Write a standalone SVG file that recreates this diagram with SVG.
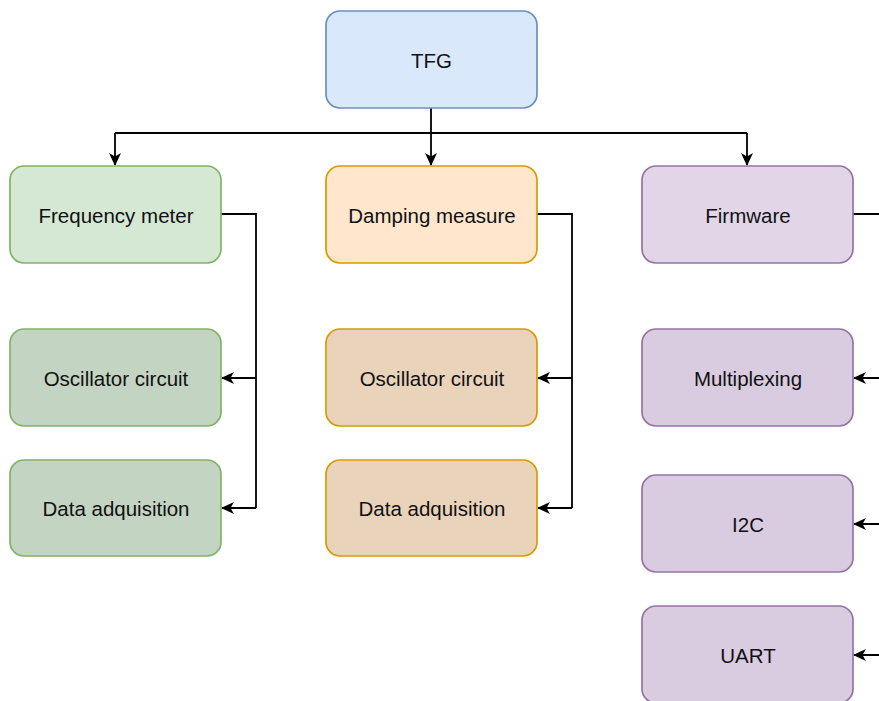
<svg xmlns="http://www.w3.org/2000/svg" width="879" height="701" viewBox="0 0 879 701">
  <style>
    .box { stroke-width: 1.7; }
    .blue { fill: #dae8fc; stroke: #6c8ebf; }
    .green { fill: #d5e8d4; stroke: #82b366; }
    .green2 { fill: #c3d4c2; stroke: #82b366; }
    .orange { fill: #ffe6cc; stroke: #d79b00; }
    .orange2 { fill: #ead3bb; stroke: #d79b00; }
    .purple { fill: #e1d5e7; stroke: #9673a6; }
    .purple2 { fill: #d9cbe0; stroke: #9673a6; }
    text { font-family: "Liberation Sans", Arial, sans-serif; font-size: 20.5px; fill: #111; text-anchor: middle; dominant-baseline: central; }
    .edge { fill: none; stroke: #000; stroke-width: 1.8; }
  </style>
  <defs>
    <marker id="arrow" viewBox="0 0 13 12" refX="12" refY="6" markerWidth="13" markerHeight="12" markerUnits="userSpaceOnUse" orient="auto">
      <path d="M0,0 L13,6 L0,12 L3.5,6 Z" fill="#000"/>
    </marker>
  </defs>

  <rect width="879" height="701" fill="#ffffff"/>

  <g id="connectors">
    <!-- TFG to first-level nodes -->
    <path class="edge" d="M431,108 V133"/>
    <path class="edge" d="M115,133 H747"/>
    <path class="edge" d="M115,133 V165" marker-end="url(#arrow)"/>
    <path class="edge" d="M431,133 V165" marker-end="url(#arrow)"/>
    <path class="edge" d="M747,133 V165" marker-end="url(#arrow)"/>
    <!-- Frequency meter children -->
    <path class="edge" d="M221,214 H256 V508"/>
    <path class="edge" d="M256,378 H222" marker-end="url(#arrow)"/>
    <path class="edge" d="M256,508 H222" marker-end="url(#arrow)"/>
    <!-- Damping measure children -->
    <path class="edge" d="M537,214 H572 V508"/>
    <path class="edge" d="M572,378 H538" marker-end="url(#arrow)"/>
    <path class="edge" d="M572,508 H538" marker-end="url(#arrow)"/>
    <!-- Firmware children -->
    <path class="edge" d="M853,214 H890"/>
    <path class="edge" d="M890,378 H854" marker-end="url(#arrow)"/>
    <path class="edge" d="M890,524 H854" marker-end="url(#arrow)"/>
    <path class="edge" d="M890,655 H854" marker-end="url(#arrow)"/>
  </g>

  <g id="tfg">
    <rect class="box blue" x="326" y="11" width="211" height="97" rx="14"/>
    <text x="431.5" y="60">TFG</text>
  </g>

  <g id="frequency-meter">
    <rect class="box green" x="10" y="166" width="211" height="97" rx="14"/>
    <text x="116" y="215">Frequency meter</text>
  </g>
  <g id="freq-oscillator">
    <rect class="box green2" x="10" y="329" width="211" height="97" rx="14"/>
    <text x="116" y="378">Oscillator circuit</text>
  </g>
  <g id="freq-data">
    <rect class="box green2" x="10" y="460" width="211" height="96" rx="14"/>
    <text x="116" y="508">Data adquisition</text>
  </g>

  <g id="damping-measure">
    <rect class="box orange" x="326" y="166" width="211" height="97" rx="14"/>
    <text x="432" y="215">Damping measure</text>
  </g>
  <g id="damp-oscillator">
    <rect class="box orange2" x="326" y="329" width="211" height="97" rx="14"/>
    <text x="432" y="378">Oscillator circuit</text>
  </g>
  <g id="damp-data">
    <rect class="box orange2" x="326" y="460" width="211" height="96" rx="14"/>
    <text x="432" y="508">Data adquisition</text>
  </g>

  <g id="firmware">
    <rect class="box purple" x="642" y="166" width="211" height="97" rx="14"/>
    <text x="748" y="215">Firmware</text>
  </g>
  <g id="multiplexing">
    <rect class="box purple2" x="642" y="329" width="211" height="97" rx="14"/>
    <text x="748" y="378">Multiplexing</text>
  </g>
  <g id="i2c">
    <rect class="box purple2" x="642" y="475" width="211" height="97" rx="14"/>
    <text x="748" y="524">I2C</text>
  </g>
  <g id="uart">
    <rect class="box purple2" x="642" y="606" width="211" height="97" rx="14"/>
    <text x="748" y="655">UART</text>
  </g>
</svg>
